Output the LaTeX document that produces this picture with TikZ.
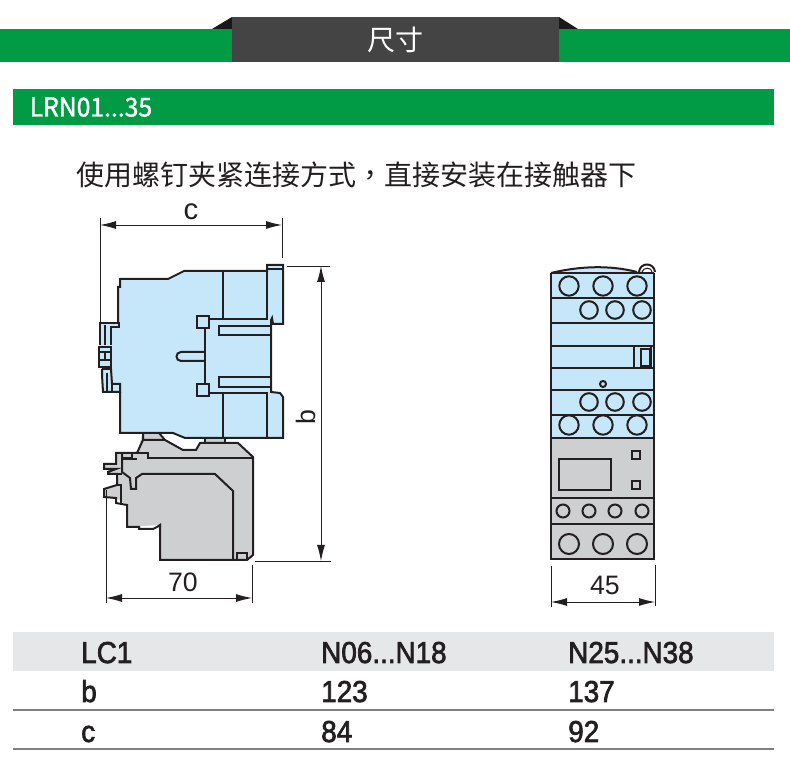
\documentclass[tikz,border=0pt]{standalone}
\usepackage{fontspec}
\setmainfont{Liberation Sans}
\newfontfamily\cjk{Noto Sans CJK SC}
\newfontfamily\cjktc{Noto Sans CJK TC}
\newfontfamily\cjklatin[FakeBold=1.5,FakeStretch=0.95]{Noto Sans CJK SC}
\newfontfamily\tabfont[FakeBold=2.2,FakeStretch=0.92]{Liberation Sans}
\usetikzlibrary{arrows.meta}
\definecolor{brandgreen}{HTML}{009B44}
\definecolor{darkbox}{HTML}{444444}
\definecolor{ink}{HTML}{231F20}
\definecolor{bodyblue}{HTML}{C6E7F9}
\definecolor{relaygray}{HTML}{CECFD0}
\definecolor{bandgray}{HTML}{E6E7E8}
\definecolor{rulegray}{HTML}{808080}
\tikzset{
  x=0.75pt,y=-0.75pt,
  outline/.style={draw=ink,line width=1.5pt,line join=miter},
  thinout/.style={draw=ink,line width=0.8pt},
  dimline/.style={draw=ink,line width=0.7pt},
  dimarrow/.style={draw=ink,line width=0.7pt,{Latex[length=12pt,width=6pt]}-{Latex[length=12pt,width=6pt]}},
  dimtext/.style={text=ink,inner sep=0pt,font=\fontsize{20}{24}\selectfont},
  tabtext/.style={text=ink,inner sep=0pt,anchor=base west,font=\tabfont\fontsize{22.7}{26}\selectfont},
  tabrule/.style={draw=rulegray,line width=1.6pt},
  hole/.style={draw=ink,line width=1.5pt}
}
\begin{document}
\begin{tikzpicture}
\useasboundingbox (0,0) rectangle (790,762);
% banner
\fill[black!90] (212,29) -- (232,17) -- (232,29) -- cycle;
\fill[black!90] (559,17) -- (578,29) -- (559,29) -- cycle;
\fill[brandgreen] (0,29) rectangle (790,62);
\fill[darkbox] (232,17) rectangle (559,62);
\node[text=white,inner sep=0pt,font=\cjk\fontsize{21}{25}\selectfont] (bannertitle) at (395,40) {尺寸};
\fill[brandgreen] (13,89) rectangle (774,125);
\node[text=white,inner sep=0pt,anchor=base west,font=\cjklatin\fontsize{19.5}{23}\selectfont] (seriestitle) at (29.5,116.5) {LRN01...35};
\node[text=ink,inner sep=0pt,font=\cjk\fontsize{21}{25}\selectfont] (subtitle) at (356.5,175) {使用螺钉夹紧连接方式{\cjktc ，}直接安装在接触器下};

% ---- side view: relay
\fill[relaygray] (143,432) -- (159,432) -- (165,440) -- (183,450) -- (197,450) -- (200,443) -- (205,443) -- (205,436) -- (225,436) -- (225,443) -- (238,443) -- (253,457) -- (253,555) -- (247,560) -- (160,560) -- (160,525) -- (127,527) -- (127,505) -- (116,498) -- (104,497) -- (104,489) -- (117,485) -- (117,474) -- (108,474) -- (108,470) -- (104,469) -- (104,464) -- (116,464) -- (116,453) -- (137,453) -- cycle;
\draw[outline] (143,434) -- (143,440) -- (137,453) -- (116,453) -- (116,464) -- (104,464) -- (104,469) -- (116,469) -- (108,472) -- (108,474) -- (117,474) -- (117,485) -- (104,489) -- (104,497) -- (116,498) -- (116,503) -- (127,505) -- (127,527) -- (139,527) -- (139,529) -- (153,529) -- (157,527) -- (160,525) -- (160,560) -- (247,560) -- (253,555) -- (253,457) -- (238,443) -- (200,443) -- (196,450) -- (183,450) -- (165,440) -- (143,440);
\draw[outline] (159,433) -- (165,440);
\draw[outline] (137,453) -- (148,453) -- (148,458) -- (253,458);
\draw[outline] (122,453) -- (122,472) -- (130,478) -- (131,489) -- (136,489) -- (136,478) -- (142,474) -- (215,474) -- (233,491) -- (233,559);
\draw[outline] (122,459) -- (137,459);
\draw[thinout] (122,453) rectangle (132,458);
\draw[outline] (237,559) -- (237,553) -- (247,553) -- (247,559);
\draw[outline] (117,474) -- (122,474);
\draw[outline] (117,485) -- (121,485) -- (121,504);
\draw[outline] (205,438) -- (205,443) (225,438) -- (225,443);

% ---- side view: contactor body
\fill[bodyblue] (120,279) -- (168,279) -- (184,271) -- (267,271) -- (267,265) -- (283,265) -- (283,324) -- (273,324) -- (271,325) -- (271,392) -- (280,393) -- (283,397) -- (283,438) -- (185,438) -- (173,433) -- (120,433) -- (120,392) -- (103,392) -- (102,369) -- (99,367) -- (99,347) -- (100,345) -- (100,323) -- (118,323) -- (118,287) -- cycle;
\draw[outline] (118,323) -- (118,287) -- (120,287) -- (120,279) -- (168,279) -- (184,271) -- (267,271) -- (267,265) -- (283,265) -- (283,324) -- (273,324) -- (272,318) -- (271,320) -- (271,392) -- (280,393) -- (283,397) -- (283,438) -- (185,438) -- (173,433) -- (120,433) -- (120,392);
\draw[outline] (267,271) -- (267,319) -- (209,319);
\draw[thinout] (267,269) -- (283,269);
\draw[outline] (223,271) -- (223,319);
\draw[outline,fill=bodyblue] (197,316) rectangle (209,328);
\draw[outline,fill=bodyblue] (197,384) rectangle (209,396);
\draw[outline] (205,328) -- (205,384);
\draw[outline] (205,352) -- (181,352) .. controls (175,352) and (175,361) .. (181,361) -- (205,361);
\draw[outline] (271,326) -- (219,326) -- (219,335) -- (271,335);
\draw[outline] (271,377) -- (219,377) -- (219,387) -- (271,387);
\draw[outline] (209,393) -- (267,393) -- (267,438);
\draw[outline] (223,393) -- (223,438);
% mounting clip
\draw[outline] (100,345) -- (100,323) -- (119,323) -- (119,327) -- (111,327) -- (111,345);
\draw[thinout] (105,325) -- (105,345);
\draw[outline,fill=bodyblue] (99,347) rectangle (111,367);
\draw[thinout] (99,352) -- (111,352) (99,360) -- (111,360) (105,352) -- (105,360);
\draw[outline] (102,369) -- (111,369) -- (112,384) -- (120,384) -- (120,392) -- (103,392) -- (102,375) -- (102,369);
\draw[thinout] (107,373) -- (107,392) (112,384) -- (112,392);

% ---- dimensions, side view
\draw[dimline] (100,218) -- (100,322);
\draw[dimline] (282,218) -- (282,258);
\coordinate (cL) at (100,225); \coordinate (cR) at (282,225);
\draw[dimarrow] (cL) -- (cR);
\node[dimtext,font=\fontsize{22}{26}\selectfont] (dimc) at (191,212) {c};
\draw[dimline] (287,266) -- (330,266);
\draw[dimline] (255,561) -- (331,561);
\coordinate (bT) at (321,266); \coordinate (bB) at (321,561);
\draw[dimarrow] (bT) -- (bB);
\node[dimtext,rotate=90] (dimb) at (306,417) {b};
\draw[dimline] (106,490) -- (106,603);
\draw[dimline] (252,565) -- (252,603);
\coordinate (sL) at (106,598); \coordinate (sR) at (252,598);
\draw[dimarrow] (sL) -- (sR);
\node[dimtext] (dimseventy) at (183,582) {70};

% ---- front view
\fill[bodyblue] (551,272) .. controls (580,266) and (610,265) .. (637,272) -- (654,272) -- (654,438) -- (551,438) -- cycle;
\fill[relaygray] (551,438) rectangle (654,559);
\draw[outline] (639,272) .. controls (640,262) and (654,262) .. (655,272);
\draw[thinout] (642,272) .. controls (643,267) and (652,267) .. (652,272);
\draw[outline] (551,273) .. controls (580,266) and (610,265) .. (637,272);
\draw[outline] (551,273) -- (551,559) -- (654,559) -- (654,273);
\foreach \yy in {273.5,298,323,346,368,390,415,438,498,524} \draw[outline] (551,\yy) -- (654,\yy);
\foreach \xx in {569,603,637} {
  \draw[hole] (\xx,286) circle[radius=9.7];
  \draw[hole] (\xx,425) circle[radius=9.7];
  \draw[hole] (\xx,544) circle[radius=10];
}
\foreach \xx in {589,615,642} {
  \draw[hole] (\xx,310) circle[radius=8.8];
  \draw[hole] (\xx,402) circle[radius=8.8];
}
\foreach \xx in {563,589,615,642} \draw[hole] (\xx,511) circle[radius=6.5];
\draw[hole] (603,384) circle[radius=3];
\draw[thinout] (634,346) -- (634,368);
\draw[thinout] (651,346) -- (651,368);
\draw[outline] (641,349) rectangle (650,366);
\draw[outline] (559,459) rectangle (611,490);
\draw[outline] (632,451) rectangle (640,459);
\draw[outline] (632,481) rectangle (640,489);
\draw[dimline] (551,566) -- (551,607);
\draw[dimline] (655,565) -- (655,606);
\coordinate (wL) at (551,602); \coordinate (wR) at (655,602);
\draw[dimarrow] (wL) -- (wR);
\node[dimtext] (dimfortyfive) at (605,585) {45};

% ---- table
\fill[bandgray] (13,632) rectangle (774,671);
\draw[tabrule] (13,710) -- (774,710);
\draw[tabrule] (13,749) -- (774,749);
\node[tabtext] (t11) at (81,663) {LC1};
\node[tabtext] (t12) at (321,663) {N06...N18};
\node[tabtext] (t13) at (568,663) {N25...N38};
\node[tabtext] (t21) at (81,702) {b};
\node[tabtext] (t22) at (321,702) {123};
\node[tabtext] (t23) at (568,702) {137};
\node[tabtext] (t31) at (81,742) {c};
\node[tabtext] (t32) at (321,742) {84};
\node[tabtext] (t33) at (568,742) {92};
\end{tikzpicture}
\end{document}
